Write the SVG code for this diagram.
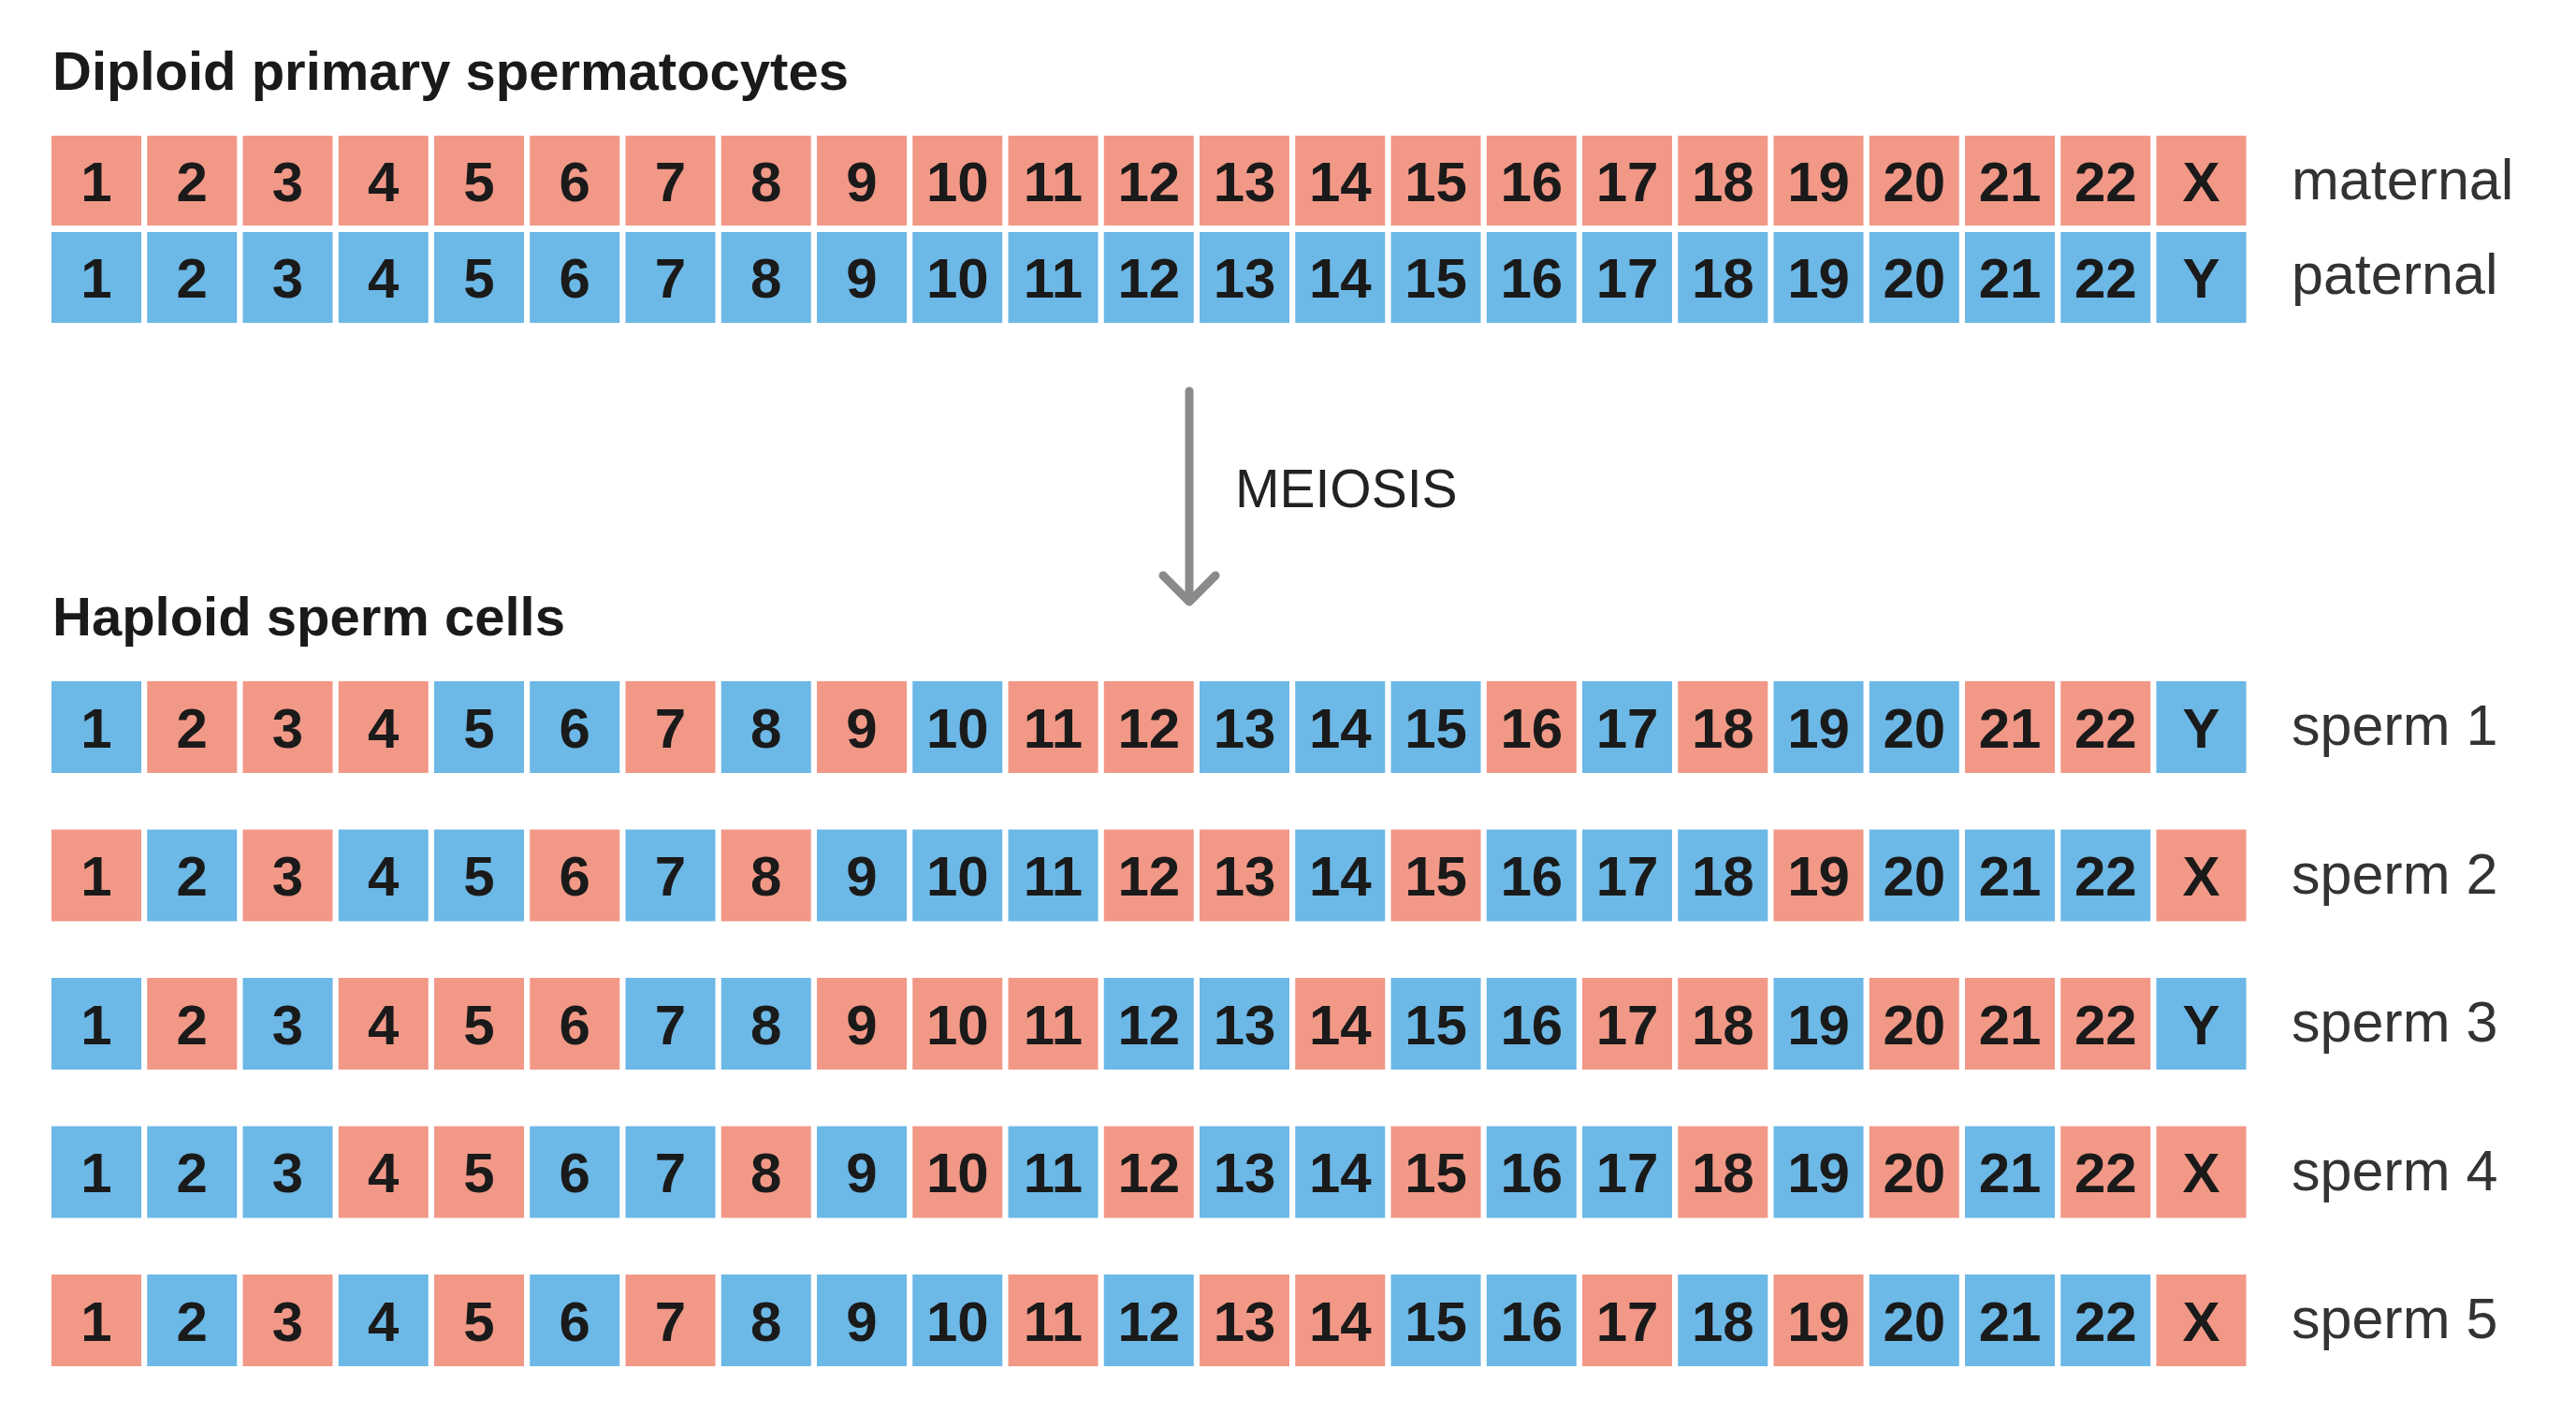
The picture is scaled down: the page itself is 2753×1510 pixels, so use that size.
<svg xmlns="http://www.w3.org/2000/svg" width="2753" height="1510" viewBox="0 0 2753 1510">
<style>
.m{fill:#F29887}
.p{fill:#6CB8E6}
.n{font-family:"Liberation Sans",Arial,sans-serif;font-weight:bold;font-size:60px;fill:#1a1a1a;text-anchor:middle}
.t{font-family:"Liberation Sans",Arial,sans-serif;font-weight:bold;font-size:58px;fill:#1a1a1a}
.l{font-family:"Liberation Sans",Arial,sans-serif;font-size:61px;fill:#333333}
.a{fill:none;stroke:#8a8a8a;stroke-width:9;stroke-linecap:round;stroke-linejoin:round}
</style>
<rect width="2753" height="1510" fill="#ffffff"/>
<text class="t" x="56" y="96">Diploid primary spermatocytes</text>
<text class="t" x="56" y="679">Haploid sperm cells</text>

<g id="maternal">
<rect class="m" x="55" y="145" width="96" height="96"/><rect class="m" x="157.25" y="145" width="96" height="96"/><rect class="m" x="259.5" y="145" width="96" height="96"/><rect class="m" x="361.75" y="145" width="96" height="96"/><rect class="m" x="464" y="145" width="96" height="96"/><rect class="m" x="566.25" y="145" width="96" height="96"/><rect class="m" x="668.5" y="145" width="96" height="96"/><rect class="m" x="770.75" y="145" width="96" height="96"/><rect class="m" x="873" y="145" width="96" height="96"/><rect class="m" x="975.25" y="145" width="96" height="96"/><rect class="m" x="1077.5" y="145" width="96" height="96"/><rect class="m" x="1179.75" y="145" width="96" height="96"/><rect class="m" x="1282" y="145" width="96" height="96"/><rect class="m" x="1384.25" y="145" width="96" height="96"/><rect class="m" x="1486.5" y="145" width="96" height="96"/><rect class="m" x="1588.75" y="145" width="96" height="96"/><rect class="m" x="1691" y="145" width="96" height="96"/><rect class="m" x="1793.25" y="145" width="96" height="96"/><rect class="m" x="1895.5" y="145" width="96" height="96"/><rect class="m" x="1997.75" y="145" width="96" height="96"/><rect class="m" x="2100" y="145" width="96" height="96"/><rect class="m" x="2202.25" y="145" width="96" height="96"/><rect class="m" x="2304.5" y="145" width="96" height="96"/>
<g class="n"><text x="103" y="214.5">1</text><text x="205.25" y="214.5">2</text><text x="307.5" y="214.5">3</text><text x="409.75" y="214.5">4</text><text x="512" y="214.5">5</text><text x="614.25" y="214.5">6</text><text x="716.5" y="214.5">7</text><text x="818.75" y="214.5">8</text><text x="921" y="214.5">9</text><text x="1023.25" y="214.5">10</text><text x="1125.5" y="214.5">11</text><text x="1227.75" y="214.5">12</text><text x="1330" y="214.5">13</text><text x="1432.25" y="214.5">14</text><text x="1534.5" y="214.5">15</text><text x="1636.75" y="214.5">16</text><text x="1739" y="214.5">17</text><text x="1841.25" y="214.5">18</text><text x="1943.5" y="214.5">19</text><text x="2045.75" y="214.5">20</text><text x="2148" y="214.5">21</text><text x="2250.25" y="214.5">22</text><text x="2352.5" y="214.5">X</text></g>
<text class="l" x="2449" y="213">maternal</text>
</g>

<g id="paternal">
<rect class="p" x="55" y="248" width="96" height="97"/><rect class="p" x="157.25" y="248" width="96" height="97"/><rect class="p" x="259.5" y="248" width="96" height="97"/><rect class="p" x="361.75" y="248" width="96" height="97"/><rect class="p" x="464" y="248" width="96" height="97"/><rect class="p" x="566.25" y="248" width="96" height="97"/><rect class="p" x="668.5" y="248" width="96" height="97"/><rect class="p" x="770.75" y="248" width="96" height="97"/><rect class="p" x="873" y="248" width="96" height="97"/><rect class="p" x="975.25" y="248" width="96" height="97"/><rect class="p" x="1077.5" y="248" width="96" height="97"/><rect class="p" x="1179.75" y="248" width="96" height="97"/><rect class="p" x="1282" y="248" width="96" height="97"/><rect class="p" x="1384.25" y="248" width="96" height="97"/><rect class="p" x="1486.5" y="248" width="96" height="97"/><rect class="p" x="1588.75" y="248" width="96" height="97"/><rect class="p" x="1691" y="248" width="96" height="97"/><rect class="p" x="1793.25" y="248" width="96" height="97"/><rect class="p" x="1895.5" y="248" width="96" height="97"/><rect class="p" x="1997.75" y="248" width="96" height="97"/><rect class="p" x="2100" y="248" width="96" height="97"/><rect class="p" x="2202.25" y="248" width="96" height="97"/><rect class="p" x="2304.5" y="248" width="96" height="97"/>
<g class="n"><text x="103" y="318">1</text><text x="205.25" y="318">2</text><text x="307.5" y="318">3</text><text x="409.75" y="318">4</text><text x="512" y="318">5</text><text x="614.25" y="318">6</text><text x="716.5" y="318">7</text><text x="818.75" y="318">8</text><text x="921" y="318">9</text><text x="1023.25" y="318">10</text><text x="1125.5" y="318">11</text><text x="1227.75" y="318">12</text><text x="1330" y="318">13</text><text x="1432.25" y="318">14</text><text x="1534.5" y="318">15</text><text x="1636.75" y="318">16</text><text x="1739" y="318">17</text><text x="1841.25" y="318">18</text><text x="1943.5" y="318">19</text><text x="2045.75" y="318">20</text><text x="2148" y="318">21</text><text x="2250.25" y="318">22</text><text x="2352.5" y="318">Y</text></g>
<text class="l" x="2449" y="314">paternal</text>
</g>

<g id="connectors">
<line class="a" x1="1271" y1="418" x2="1271" y2="641"/>
<polyline class="a" points="1243,615 1271,643 1299,615"/>
<text class="l" x="1320" y="542" style="font-size:57px;fill:#222222">MEIOSIS</text>
</g>

<g id="sperm1">
<rect class="p" x="55" y="728" width="96" height="98"/><rect class="m" x="157.25" y="728" width="96" height="98"/><rect class="m" x="259.5" y="728" width="96" height="98"/><rect class="m" x="361.75" y="728" width="96" height="98"/><rect class="p" x="464" y="728" width="96" height="98"/><rect class="p" x="566.25" y="728" width="96" height="98"/><rect class="m" x="668.5" y="728" width="96" height="98"/><rect class="p" x="770.75" y="728" width="96" height="98"/><rect class="m" x="873" y="728" width="96" height="98"/><rect class="p" x="975.25" y="728" width="96" height="98"/><rect class="m" x="1077.5" y="728" width="96" height="98"/><rect class="m" x="1179.75" y="728" width="96" height="98"/><rect class="p" x="1282" y="728" width="96" height="98"/><rect class="p" x="1384.25" y="728" width="96" height="98"/><rect class="p" x="1486.5" y="728" width="96" height="98"/><rect class="m" x="1588.75" y="728" width="96" height="98"/><rect class="p" x="1691" y="728" width="96" height="98"/><rect class="m" x="1793.25" y="728" width="96" height="98"/><rect class="p" x="1895.5" y="728" width="96" height="98"/><rect class="p" x="1997.75" y="728" width="96" height="98"/><rect class="m" x="2100" y="728" width="96" height="98"/><rect class="m" x="2202.25" y="728" width="96" height="98"/><rect class="p" x="2304.5" y="728" width="96" height="98"/>
<g class="n"><text x="103" y="798.5">1</text><text x="205.25" y="798.5">2</text><text x="307.5" y="798.5">3</text><text x="409.75" y="798.5">4</text><text x="512" y="798.5">5</text><text x="614.25" y="798.5">6</text><text x="716.5" y="798.5">7</text><text x="818.75" y="798.5">8</text><text x="921" y="798.5">9</text><text x="1023.25" y="798.5">10</text><text x="1125.5" y="798.5">11</text><text x="1227.75" y="798.5">12</text><text x="1330" y="798.5">13</text><text x="1432.25" y="798.5">14</text><text x="1534.5" y="798.5">15</text><text x="1636.75" y="798.5">16</text><text x="1739" y="798.5">17</text><text x="1841.25" y="798.5">18</text><text x="1943.5" y="798.5">19</text><text x="2045.75" y="798.5">20</text><text x="2148" y="798.5">21</text><text x="2250.25" y="798.5">22</text><text x="2352.5" y="798.5">Y</text></g>
<text class="l" x="2449" y="796">sperm 1</text>
</g>

<g id="sperm2">
<rect class="m" x="55" y="886.5" width="96" height="98"/><rect class="p" x="157.25" y="886.5" width="96" height="98"/><rect class="m" x="259.5" y="886.5" width="96" height="98"/><rect class="p" x="361.75" y="886.5" width="96" height="98"/><rect class="p" x="464" y="886.5" width="96" height="98"/><rect class="m" x="566.25" y="886.5" width="96" height="98"/><rect class="p" x="668.5" y="886.5" width="96" height="98"/><rect class="m" x="770.75" y="886.5" width="96" height="98"/><rect class="p" x="873" y="886.5" width="96" height="98"/><rect class="p" x="975.25" y="886.5" width="96" height="98"/><rect class="p" x="1077.5" y="886.5" width="96" height="98"/><rect class="m" x="1179.75" y="886.5" width="96" height="98"/><rect class="m" x="1282" y="886.5" width="96" height="98"/><rect class="p" x="1384.25" y="886.5" width="96" height="98"/><rect class="m" x="1486.5" y="886.5" width="96" height="98"/><rect class="p" x="1588.75" y="886.5" width="96" height="98"/><rect class="p" x="1691" y="886.5" width="96" height="98"/><rect class="p" x="1793.25" y="886.5" width="96" height="98"/><rect class="m" x="1895.5" y="886.5" width="96" height="98"/><rect class="p" x="1997.75" y="886.5" width="96" height="98"/><rect class="p" x="2100" y="886.5" width="96" height="98"/><rect class="p" x="2202.25" y="886.5" width="96" height="98"/><rect class="m" x="2304.5" y="886.5" width="96" height="98"/>
<g class="n"><text x="103" y="957">1</text><text x="205.25" y="957">2</text><text x="307.5" y="957">3</text><text x="409.75" y="957">4</text><text x="512" y="957">5</text><text x="614.25" y="957">6</text><text x="716.5" y="957">7</text><text x="818.75" y="957">8</text><text x="921" y="957">9</text><text x="1023.25" y="957">10</text><text x="1125.5" y="957">11</text><text x="1227.75" y="957">12</text><text x="1330" y="957">13</text><text x="1432.25" y="957">14</text><text x="1534.5" y="957">15</text><text x="1636.75" y="957">16</text><text x="1739" y="957">17</text><text x="1841.25" y="957">18</text><text x="1943.5" y="957">19</text><text x="2045.75" y="957">20</text><text x="2148" y="957">21</text><text x="2250.25" y="957">22</text><text x="2352.5" y="957">X</text></g>
<text class="l" x="2449" y="954.5">sperm 2</text>
</g>

<g id="sperm3">
<rect class="p" x="55" y="1045" width="96" height="98"/><rect class="m" x="157.25" y="1045" width="96" height="98"/><rect class="p" x="259.5" y="1045" width="96" height="98"/><rect class="m" x="361.75" y="1045" width="96" height="98"/><rect class="m" x="464" y="1045" width="96" height="98"/><rect class="m" x="566.25" y="1045" width="96" height="98"/><rect class="p" x="668.5" y="1045" width="96" height="98"/><rect class="p" x="770.75" y="1045" width="96" height="98"/><rect class="m" x="873" y="1045" width="96" height="98"/><rect class="m" x="975.25" y="1045" width="96" height="98"/><rect class="m" x="1077.5" y="1045" width="96" height="98"/><rect class="p" x="1179.75" y="1045" width="96" height="98"/><rect class="p" x="1282" y="1045" width="96" height="98"/><rect class="m" x="1384.25" y="1045" width="96" height="98"/><rect class="p" x="1486.5" y="1045" width="96" height="98"/><rect class="p" x="1588.75" y="1045" width="96" height="98"/><rect class="m" x="1691" y="1045" width="96" height="98"/><rect class="m" x="1793.25" y="1045" width="96" height="98"/><rect class="p" x="1895.5" y="1045" width="96" height="98"/><rect class="m" x="1997.75" y="1045" width="96" height="98"/><rect class="m" x="2100" y="1045" width="96" height="98"/><rect class="m" x="2202.25" y="1045" width="96" height="98"/><rect class="p" x="2304.5" y="1045" width="96" height="98"/>
<g class="n"><text x="103" y="1115.5">1</text><text x="205.25" y="1115.5">2</text><text x="307.5" y="1115.5">3</text><text x="409.75" y="1115.5">4</text><text x="512" y="1115.5">5</text><text x="614.25" y="1115.5">6</text><text x="716.5" y="1115.5">7</text><text x="818.75" y="1115.5">8</text><text x="921" y="1115.5">9</text><text x="1023.25" y="1115.5">10</text><text x="1125.5" y="1115.5">11</text><text x="1227.75" y="1115.5">12</text><text x="1330" y="1115.5">13</text><text x="1432.25" y="1115.5">14</text><text x="1534.5" y="1115.5">15</text><text x="1636.75" y="1115.5">16</text><text x="1739" y="1115.5">17</text><text x="1841.25" y="1115.5">18</text><text x="1943.5" y="1115.5">19</text><text x="2045.75" y="1115.5">20</text><text x="2148" y="1115.5">21</text><text x="2250.25" y="1115.5">22</text><text x="2352.5" y="1115.5">Y</text></g>
<text class="l" x="2449" y="1113">sperm 3</text>
</g>

<g id="sperm4">
<rect class="p" x="55" y="1203.5" width="96" height="98"/><rect class="p" x="157.25" y="1203.5" width="96" height="98"/><rect class="p" x="259.5" y="1203.5" width="96" height="98"/><rect class="m" x="361.75" y="1203.5" width="96" height="98"/><rect class="m" x="464" y="1203.5" width="96" height="98"/><rect class="p" x="566.25" y="1203.5" width="96" height="98"/><rect class="p" x="668.5" y="1203.5" width="96" height="98"/><rect class="m" x="770.75" y="1203.5" width="96" height="98"/><rect class="p" x="873" y="1203.5" width="96" height="98"/><rect class="m" x="975.25" y="1203.5" width="96" height="98"/><rect class="p" x="1077.5" y="1203.5" width="96" height="98"/><rect class="m" x="1179.75" y="1203.5" width="96" height="98"/><rect class="p" x="1282" y="1203.5" width="96" height="98"/><rect class="p" x="1384.25" y="1203.5" width="96" height="98"/><rect class="m" x="1486.5" y="1203.5" width="96" height="98"/><rect class="p" x="1588.75" y="1203.5" width="96" height="98"/><rect class="p" x="1691" y="1203.5" width="96" height="98"/><rect class="m" x="1793.25" y="1203.5" width="96" height="98"/><rect class="p" x="1895.5" y="1203.5" width="96" height="98"/><rect class="m" x="1997.75" y="1203.5" width="96" height="98"/><rect class="p" x="2100" y="1203.5" width="96" height="98"/><rect class="m" x="2202.25" y="1203.5" width="96" height="98"/><rect class="m" x="2304.5" y="1203.5" width="96" height="98"/>
<g class="n"><text x="103" y="1274">1</text><text x="205.25" y="1274">2</text><text x="307.5" y="1274">3</text><text x="409.75" y="1274">4</text><text x="512" y="1274">5</text><text x="614.25" y="1274">6</text><text x="716.5" y="1274">7</text><text x="818.75" y="1274">8</text><text x="921" y="1274">9</text><text x="1023.25" y="1274">10</text><text x="1125.5" y="1274">11</text><text x="1227.75" y="1274">12</text><text x="1330" y="1274">13</text><text x="1432.25" y="1274">14</text><text x="1534.5" y="1274">15</text><text x="1636.75" y="1274">16</text><text x="1739" y="1274">17</text><text x="1841.25" y="1274">18</text><text x="1943.5" y="1274">19</text><text x="2045.75" y="1274">20</text><text x="2148" y="1274">21</text><text x="2250.25" y="1274">22</text><text x="2352.5" y="1274">X</text></g>
<text class="l" x="2449" y="1271.5">sperm 4</text>
</g>

<g id="sperm5">
<rect class="m" x="55" y="1362" width="96" height="98"/><rect class="p" x="157.25" y="1362" width="96" height="98"/><rect class="m" x="259.5" y="1362" width="96" height="98"/><rect class="p" x="361.75" y="1362" width="96" height="98"/><rect class="m" x="464" y="1362" width="96" height="98"/><rect class="p" x="566.25" y="1362" width="96" height="98"/><rect class="m" x="668.5" y="1362" width="96" height="98"/><rect class="p" x="770.75" y="1362" width="96" height="98"/><rect class="p" x="873" y="1362" width="96" height="98"/><rect class="p" x="975.25" y="1362" width="96" height="98"/><rect class="m" x="1077.5" y="1362" width="96" height="98"/><rect class="p" x="1179.75" y="1362" width="96" height="98"/><rect class="m" x="1282" y="1362" width="96" height="98"/><rect class="m" x="1384.25" y="1362" width="96" height="98"/><rect class="p" x="1486.5" y="1362" width="96" height="98"/><rect class="p" x="1588.75" y="1362" width="96" height="98"/><rect class="m" x="1691" y="1362" width="96" height="98"/><rect class="p" x="1793.25" y="1362" width="96" height="98"/><rect class="m" x="1895.5" y="1362" width="96" height="98"/><rect class="p" x="1997.75" y="1362" width="96" height="98"/><rect class="p" x="2100" y="1362" width="96" height="98"/><rect class="p" x="2202.25" y="1362" width="96" height="98"/><rect class="m" x="2304.5" y="1362" width="96" height="98"/>
<g class="n"><text x="103" y="1432.5">1</text><text x="205.25" y="1432.5">2</text><text x="307.5" y="1432.5">3</text><text x="409.75" y="1432.5">4</text><text x="512" y="1432.5">5</text><text x="614.25" y="1432.5">6</text><text x="716.5" y="1432.5">7</text><text x="818.75" y="1432.5">8</text><text x="921" y="1432.5">9</text><text x="1023.25" y="1432.5">10</text><text x="1125.5" y="1432.5">11</text><text x="1227.75" y="1432.5">12</text><text x="1330" y="1432.5">13</text><text x="1432.25" y="1432.5">14</text><text x="1534.5" y="1432.5">15</text><text x="1636.75" y="1432.5">16</text><text x="1739" y="1432.5">17</text><text x="1841.25" y="1432.5">18</text><text x="1943.5" y="1432.5">19</text><text x="2045.75" y="1432.5">20</text><text x="2148" y="1432.5">21</text><text x="2250.25" y="1432.5">22</text><text x="2352.5" y="1432.5">X</text></g>
<text class="l" x="2449" y="1430">sperm 5</text>
</g>
</svg>
